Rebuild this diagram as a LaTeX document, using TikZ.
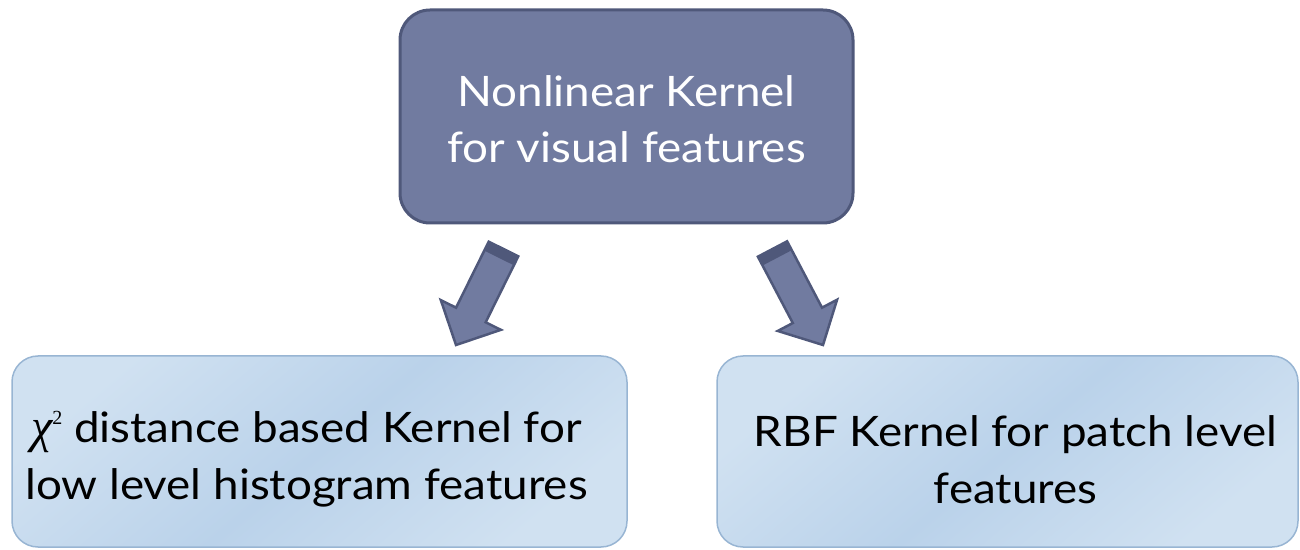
\documentclass[tikz,border=0pt]{standalone}
\usepackage{fontspec}
\setmainfont{Lato}[FakeStretch=1.09]
\newfontfamily\chifont{Liberation Serif}
\usetikzlibrary{calc}
\definecolor{topfill}{HTML}{717BA0}
\definecolor{topline}{HTML}{4F587A}
\definecolor{boxlight}{HTML}{D0E1F1}
\definecolor{boxmid}{HTML}{BAD2EA}
\definecolor{boxline}{HTML}{98B5D3}
\newcommand\blockarrow[2]{%
  \coordinate (#1h) at ($(#2)!33.5pt!(#1)$);
  \coordinate (#1b) at ($(#1)!10pt!(#2)$);
  \filldraw[arrowbody] ($(#1)!16.5pt!90:(#2)$) -- ($(#1h)!16.5pt!90:(#2)$)
    -- ($(#1h)!33.5pt!90:(#2)$) -- (#2) -- ($(#1h)!33.5pt!-90:(#2)$)
    -- ($(#1h)!16.5pt!-90:(#2)$) -- ($(#1)!16.5pt!-90:(#2)$) -- cycle;
  \fill[arrowdark] ($(#1)!16.5pt!90:(#2)$) -- ($(#1b)!16.5pt!90:(#2)$)
    -- ($(#1b)!16.5pt!-90:(#2)$) -- ($(#1)!16.5pt!-90:(#2)$) -- cycle;
}
\newcommand\chisq{{\chifont\itshape\fontsize{48}{48}\selectfont χ}\raisebox{18pt}{\chifont\fontsize{20}{20}\selectfont 2}}
\tikzset{
  topbox/.style={rectangle, rounded corners=30pt, fill=topfill, draw=topline,
    line width=3pt},
  lowbox/.style={rectangle, rounded corners=26pt, draw=boxline, line width=1.5pt,
    top color=boxlight, bottom color=boxlight, middle color=boxmid, shading angle=40},
  toptext/.style={text=white, align=center, inner sep=0pt,
    font=\fontsize{42}{56}\selectfont},
  lowtext/.style={text=black, align=center, inner sep=0pt,
    font=\fontsize{42}{57}\selectfont},
  arrowbody/.style={fill=topfill, draw=topline, line width=2.5pt, line join=miter},
  arrowdark/.style={fill=topline},
}
\begin{document}
\begin{tikzpicture}[x=1pt,y=1pt]
\useasboundingbox (0,0) rectangle (1300,549);
\node[topbox, minimum width=453pt, minimum height=213pt] (top) at (626.5,432.5) {};
\node[lowbox, minimum width=615pt, minimum height=191pt] (left) at (319.5,97.5) {};
\node[lowbox, minimum width=581pt, minimum height=191pt] (right) at (1007.5,97.5) {};
\node[toptext] (toplabel) at ($(top.center)+(0,-3)$)
  {Nonlinear Kernel\\for visual features};
\node[lowtext] (leftlabel) at ($(left.center)+(-13,-8)$)
  {\chisq\ distance based Kernel for\\low level histogram features};
\node[lowtext] (rightlabel) at ($(right.center)+(8,-8)$)
  {RBF Kernel for patch level\\features};
\coordinate (lt) at (503.5,300);
\coordinate (lp) at (456,204);
\coordinate (rt) at (772.5,300);
\coordinate (rp) at (823,204);
\blockarrow{lt}{lp}
\blockarrow{rt}{rp}
\end{tikzpicture}
\end{document}
